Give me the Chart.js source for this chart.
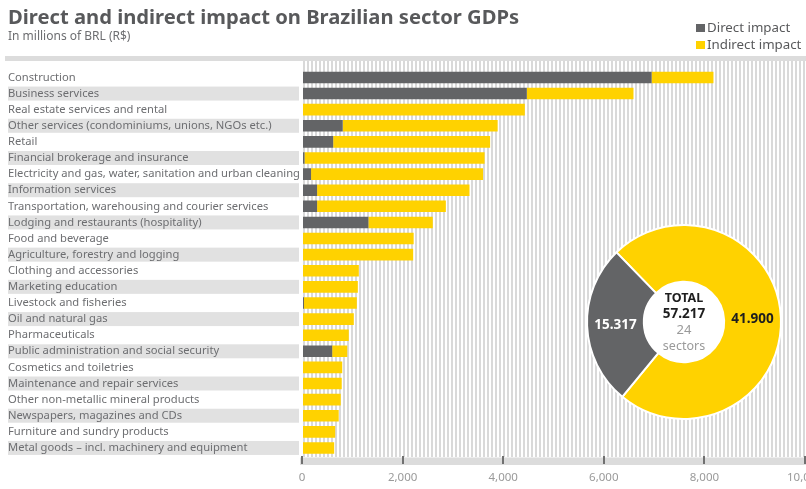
<!DOCTYPE html>
<html>
<head>
<meta charset="utf-8">
<script src="https://cdn.jsdelivr.net/npm/chart.js@4/dist/chart.umd.min.js"></script>
<style>
  html,body{margin:0;padding:0;background:#fff;overflow:hidden;width:806px;height:489px;}
  #wrap{position:relative;width:806px;height:489px;overflow:hidden;font-family:"Noto Sans",sans-serif;}
  #main{position:absolute;left:0;top:0;}
  #donut{position:absolute;left:584px;top:222px;}
  .title{position:absolute;left:8px;top:6px;font-size:20.2px;line-height:20px;font-weight:bold;color:#58595b;white-space:nowrap;}
  .sub{position:absolute;left:8px;top:30px;font-size:12px;line-height:12px;color:#6d6e71;white-space:nowrap;}
  .leg{position:absolute;left:696px;font-size:13.3px;line-height:13px;color:#58595b;white-space:nowrap;}
  .leg i{display:inline-block;width:9px;height:8px;margin-right:2px;vertical-align:0px;}
</style>
</head>
<body>
<div id="wrap">
  <canvas id="main" width="830" height="489"></canvas>
  <canvas id="donut" width="200" height="200"></canvas>
  <div class="title">Direct and indirect impact on Brazilian sector GDPs</div>
  <div class="sub">In millions of BRL (R$)</div>
  <div class="leg" style="top:21px"><i style="background:#636466"></i>Direct impact</div>
  <div class="leg" style="top:38px"><i style="background:#FFD200"></i>Indirect impact</div>
</div>
<script>
// ---------- DATA ----------
const categories = [
  "Construction",
  "Business services",
  "Real estate services and rental",
  "Other services (condominiums, unions, NGOs etc.)",
  "Retail",
  "Financial brokerage and insurance",
  "Electricity and gas, water, sanitation and urban cleaning",
  "Information services",
  "Transportation, warehousing and courier services",
  "Lodging and restaurants (hospitality)",
  "Food and beverage",
  "Agriculture, forestry and logging",
  "Clothing and accessories",
  "Marketing education",
  "Livestock and fisheries",
  "Oil and natural gas",
  "Pharmaceuticals",
  "Public administration and social security",
  "Cosmetics and toiletries",
  "Maintenance and repair services",
  "Other non-metallic mineral products",
  "Newspapers, magazines and CDs",
  "Furniture and sundry products",
  "Metal goods \u2013 incl. machinery and equipment"
];
const directImpact   = [6950, 4470, 0, 810, 620, 50, 180, 300, 300, 1320, 0, 0, 0, 0, 40, 0, 0, 600, 0, 0, 0, 0, 0, 0];
const indirectImpact = [1230, 2120, 4430, 3080, 3120, 3580, 3420, 3030, 2560, 1280, 2220, 2210, 1130, 1110, 1050, 1030, 930, 300, 800, 790, 770, 730, 660, 640];
const xTicks = [0, 2000, 4000, 6000, 8000, 10000];
const donutLabels = ["Indirect impact", "Direct impact"];
const donutValues = [41900, 15317];
const sectorCount = 24;

const GREY = "#636466", YELLOW = "#FFD200";

// label font size chosen so the longest label fits the label column
const LABEL_COL = 294;
const mctx = document.createElement("canvas").getContext("2d");
mctx.font = "12px 'Noto Sans'";
const widest = Math.max(...categories.map(c => mctx.measureText(c).width));
const labelSize = Math.min(12.2, Math.floor(12 * (LABEL_COL - 1) / widest * 10) / 10);

// ---------- MAIN BAR CHART ----------
const backgroundPlugin = {
  id: "bg",
  beforeDraw(chart) {
    const {ctx, chartArea, scales} = chart;
    const y = scales.y;
    ctx.save();
    ctx.fillStyle = "#dcdcdc";
    ctx.fillRect(5, 56, chart.width, 5);
    ctx.fillStyle = "#d9d9d9";
    for (let x = chartArea.left + 1; x < chartArea.right; x += 4) {
      ctx.fillRect(x, 61, 2, chartArea.bottom + 1 - 61);
    }
    ctx.fillStyle = "#e1e1e1";
    categories.forEach((c, i) => {
      if (i % 2 === 1) {
        const py = y.getPixelForValue(i);
        ctx.fillRect(8, py - 7, chartArea.left - 11, 14);
      }
    });
    ctx.fillStyle = "#dcdcdc";
    ctx.fillRect(chartArea.left - 2, chartArea.bottom + 1.5, chart.width, 7.5);
    ctx.restore();
  }
};

new Chart(document.getElementById("main"), {
  type: "bar",
  data: {
    labels: categories,
    datasets: [
      {label: "Direct impact", data: directImpact, backgroundColor: GREY, borderWidth: 0},
      {label: "Indirect impact", data: indirectImpact, backgroundColor: YELLOW, borderWidth: 0}
    ]
  },
  options: {
    indexAxis: "y",
    responsive: false,
    animation: false,
    devicePixelRatio: 1,
    layout: {padding: {left: 302 - LABEL_COL, top: 69.4, right: 21, bottom: 0}},
    datasets: {bar: {categoryPercentage: 1, barPercentage: 0.72}},
    plugins: {legend: {display: false}, tooltip: {enabled: false}, title: {display: false}},
    scales: {
      x: {
        stacked: true,
        min: 0, max: 10000,
        afterBuildTicks(scale) { scale.ticks = xTicks.map(v => ({value: v})); },
        afterFit(scale) { scale.height = 33; },
        border: {display: false},
        grid: {drawOnChartArea: false, drawTicks: true, tickLength: 8, color: "#707070", lineWidth: 2},
        ticks: {color: "#9a9a9a", font: {family: "Noto Sans", size: 11.5}, padding: 7,
                callback: v => v.toLocaleString("en-US")}
      },
      y: {
        stacked: true,
        afterFit(scale) { scale.width = LABEL_COL; },
        border: {display: false},
        grid: {display: false, drawTicks: false},
        ticks: {crossAlign: "far", color: "#6d6e71", font: {family: "Noto Sans", size: labelSize}, padding: 0, autoSkip: false}
      }
    }
  },
  plugins: [backgroundPlugin]
});

// ---------- DONUT ----------
function fmt(n) { return String(n).replace(/\B(?=(\d{3})+(?!\d))/g, "."); }
const donutText = {
  id: "donutText",
  beforeDatasetsDraw(chart) {
    const arc = chart.getDatasetMeta(0).data[0];
    const {ctx} = chart;
    ctx.save();
    ctx.fillStyle = "#ffffff";
    ctx.beginPath();
    ctx.arc(arc.x, arc.y, arc.innerRadius + 1, 0, Math.PI * 2);
    ctx.fill();
    ctx.restore();
  },
  afterDatasetsDraw(chart) {
    const meta = chart.getDatasetMeta(0);
    const {ctx} = chart;
    const cx = meta.data[0].x, cy = meta.data[0].y;
    const total = donutValues.reduce((a, b) => a + b, 0);
    ctx.save();
    ctx.textAlign = "center";
    ctx.textBaseline = "middle";
    ctx.fillStyle = "#1e1e1e";
    ctx.font = "bold 12.5px 'Noto Sans'";
    ctx.fillText("TOTAL", cx, cy - 23.5);
    ctx.font = "bold 13.5px 'Noto Sans'";
    ctx.fillText(fmt(total), cx, cy - 7.5);
    ctx.fillStyle = "#9a9a9a";
    ctx.font = "13px 'Noto Sans'";
    ctx.fillText(String(sectorCount), cx, cy + 8.5);
    ctx.font = "12.5px 'Noto Sans'";
    ctx.fillText("sectors", cx, cy + 24);
    const colors = ["#1e1e1e", "#ffffff"];
    meta.data.forEach((a, i) => {
      const p = a.tooltipPosition();
      ctx.fillStyle = colors[i];
      ctx.font = "bold 13.5px 'Noto Sans'";
      ctx.fillText(fmt(donutValues[i]), p.x, p.y);
    });
    ctx.restore();
  }
};

new Chart(document.getElementById("donut"), {
  type: "doughnut",
  data: {
    labels: donutLabels,
    datasets: [{data: donutValues, backgroundColor: [YELLOW, GREY], borderColor: "#ffffff", borderWidth: 2}]
  },
  options: {
    responsive: false,
    animation: false,
    devicePixelRatio: 1,
    radius: 97,
    cutout: 41,
    rotation: -44.1,
    layout: {padding: 0},
    plugins: {legend: {display: false}, tooltip: {enabled: false}}
  },
  plugins: [donutText]
});
</script>
</body>
</html>
